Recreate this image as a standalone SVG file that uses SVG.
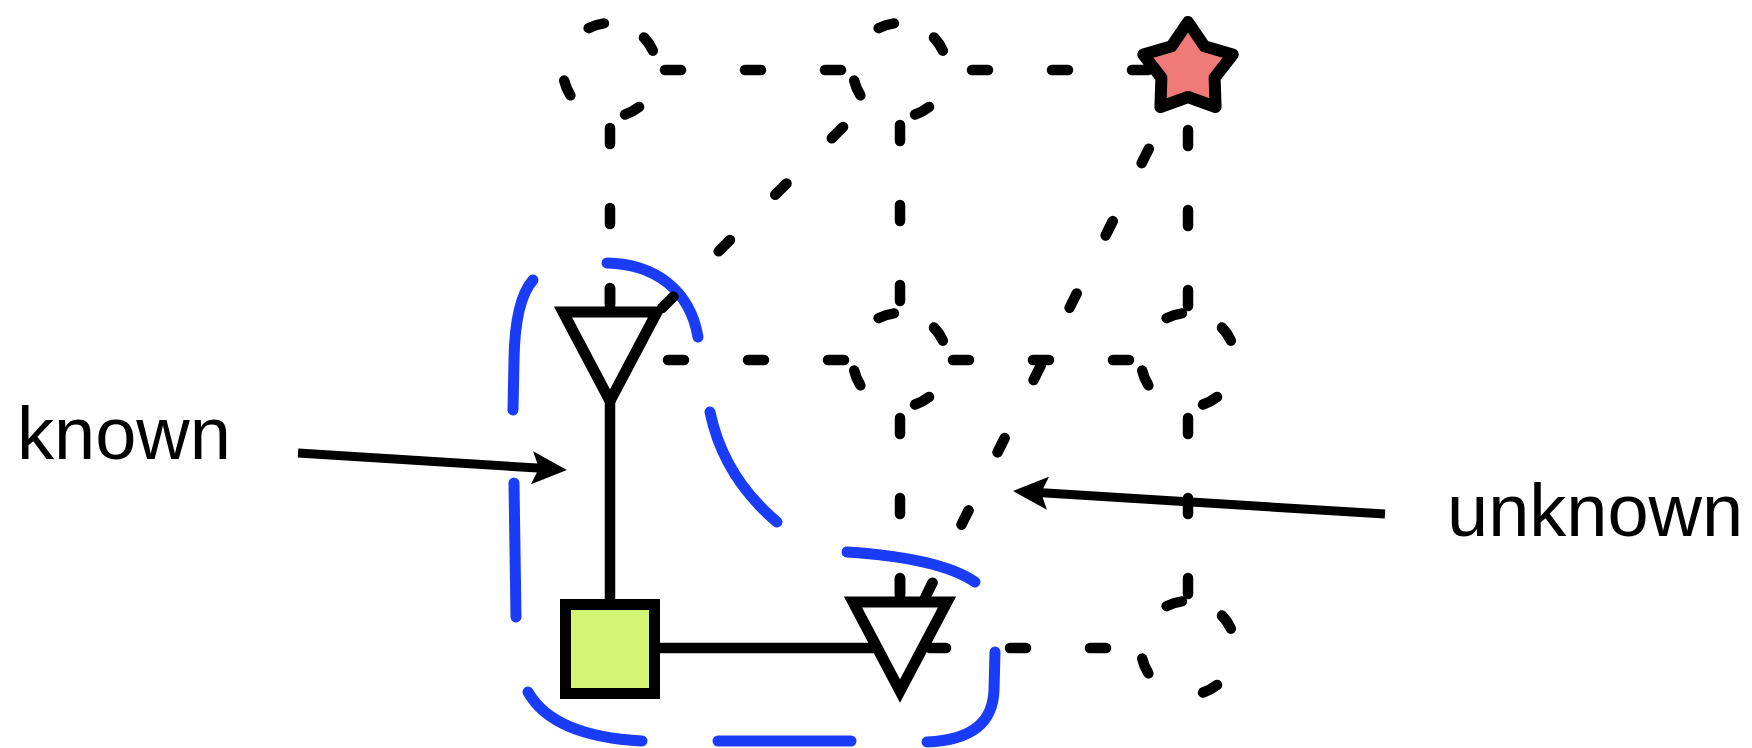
<svg xmlns="http://www.w3.org/2000/svg" xmlns:xlink="http://www.w3.org/1999/xlink" width="1752" height="748" viewBox="0 0 1752 748">
  <style>
    .bg { fill: #ffffff; }
    .dash { fill: none; stroke: #000; stroke-width: 10.5; stroke-linecap: round; stroke-dasharray: 16 64; }
    .solid { fill: none; stroke: #000; stroke-width: 10.5; stroke-linecap: butt; }
    .ghost { fill: none; stroke: #000; stroke-width: 10.5; stroke-linecap: round; stroke-dasharray: 16 62.3; }
    .hull { fill: none; stroke: #1b3cf6; stroke-width: 11; stroke-linecap: round; }
    .antenna { fill: #fff; stroke: #000; stroke-width: 11; stroke-linejoin: miter; }
    .stub { stroke: #000; stroke-width: 10.5; }
    .base { fill: #d4f574; stroke: #000; stroke-width: 11; }
    .goal { fill: #f07a78; stroke: #000; stroke-width: 12; stroke-linejoin: round; }
    .pointer { fill: none; stroke: #000; stroke-width: 9; }
    .label { font-family: "Liberation Sans", Arial, sans-serif; font-size: 74px; fill: #000; }
  </style>
  <defs>
    <circle id="ghost-node" r="47" class="ghost" transform="rotate(-43.75)"/>
    <marker id="head" markerUnits="userSpaceOnUse" markerWidth="40" markerHeight="40" viewBox="-20 -20 40 40" refX="0" refY="0" orient="auto" overflow="visible">
      <path d="M21,0 L-14,-16.5 L-7,0 L-14,16.5 Z" fill="#000"/>
    </marker>
  </defs>

  <rect class="bg" x="0" y="0" width="1752" height="748"/>

  <!-- dashed boundary of the known region -->
  <g id="known-region">
    <path class="hull" d="M533 280 Q515 300 514 360 L513 410"/>
    <path class="hull" d="M514 483 L516 617"/>
    <path class="hull" d="M528 692 C545 722 585 738 642 741"/>
    <path class="hull" d="M718 741 L851 741"/>
    <path class="hull" d="M927 742 C975 740 993 720 994 690 L995 652"/>
    <path class="hull" d="M847 552 Q940 558 975 582"/>
    <path class="hull" d="M777 522 C745 495 720 460 710 412"/>
    <path class="hull" d="M698 337 C690 290 655 264 607 263"/>
  </g>

  <g id="connectors">
    <!-- unknown links -->
    <line class="dash" x1="665" y1="70" x2="900" y2="70"/>
    <line class="dash" x1="972" y1="70" x2="1188" y2="70"/>
    <line class="dash" x1="668" y1="360" x2="900" y2="360"/>
    <line class="dash" x1="953" y1="360" x2="1188" y2="360"/>
    <line class="dash" x1="930" y1="648" x2="1141" y2="648"/>
    <line class="dash" x1="610" y1="128" x2="610" y2="360"/>
    <line class="dash" x1="900" y1="125" x2="900" y2="360"/>
    <line class="dash" x1="900" y1="418" x2="900" y2="648"/>
    <line class="dash" x1="1188" y1="130" x2="1188" y2="360"/>
    <line class="dash" x1="1188" y1="418" x2="1188" y2="648"/>
    <line class="dash" x1="843.1" y1="126.9" x2="610" y2="360"/>
    <line class="dash" x1="1148.8" y1="148.8" x2="900" y2="648" style="stroke-dasharray: 16 64.8"/>
    <!-- known links -->
    <line class="solid" x1="610" y1="360" x2="610" y2="649"/>
    <line class="solid" x1="610" y1="648" x2="900" y2="648"/>
    <!-- label pointers -->
    <line class="pointer" x1="298" y1="453" x2="546" y2="468.6" marker-end="url(#head)"/>
    <line class="pointer" x1="1385" y1="514" x2="1034" y2="492.3" marker-end="url(#head)"/>
  </g>

  <g id="n11"><use xlink:href="#ghost-node" x="610" y="70"/></g>
  <g id="n12"><use xlink:href="#ghost-node" x="900" y="70"/></g>
  <g id="n22"><use xlink:href="#ghost-node" x="900" y="360"/></g>
  <g id="n23"><use xlink:href="#ghost-node" x="1188" y="360"/></g>
  <g id="n33"><use xlink:href="#ghost-node" x="1188" y="648"/></g>

  <g id="n21">
    <line class="stub" x1="610" y1="287" x2="610" y2="312"/>
    <polygon class="antenna" points="563,312 657,312 610,401"/>
  </g>

  <g id="n32">
    <line class="stub" x1="900" y1="577" x2="900" y2="602"/>
    <polygon class="antenna" points="853,602 947,602 900,691"/>
  </g>

  <g id="n31">
    <rect class="base" x="565.5" y="604.5" width="89" height="89"/>
  </g>

  <g id="n13">
    <polygon class="goal" points="1188,22 1204.5,46.3 1232.7,54.5 1214.6,77.7 1215.6,107 1188,97 1160.4,107 1161.4,77.7 1143.3,54.5 1171.5,46.3"/>
  </g>

  <g id="label-known">
    <text class="label" x="17" y="459">known</text>
  </g>
  <g id="label-unknown">
    <text class="label" x="1447" y="536">unknown</text>
  </g>
</svg>
